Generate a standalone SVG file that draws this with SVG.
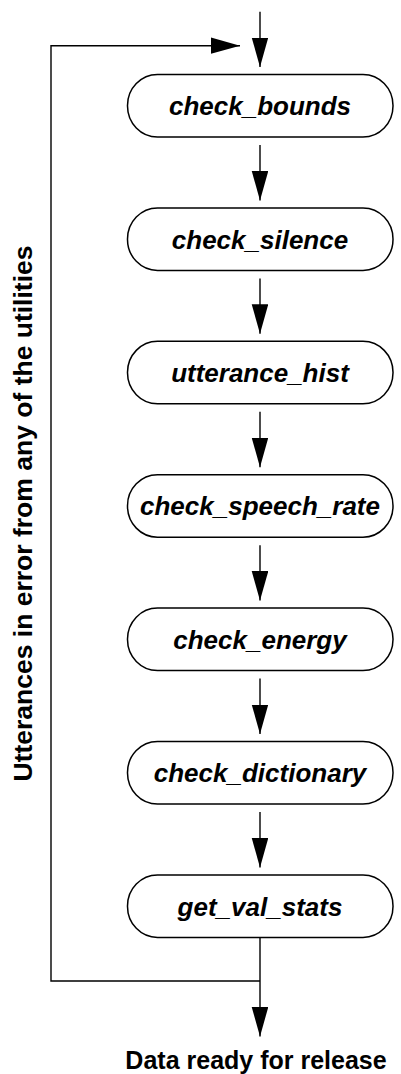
<svg xmlns="http://www.w3.org/2000/svg" width="401" height="1074" viewBox="0 0 401 1074">
<style>
.box{fill:#fff;stroke:#000;stroke-width:1.5}
.lbl{font-family:"Liberation Sans",Arial,sans-serif;font-weight:bold;font-style:italic;font-size:26px;text-anchor:middle;fill:#000}
.txt{font-family:"Liberation Sans",Arial,sans-serif;font-weight:bold;fill:#000;text-anchor:middle}
.ln{fill:none;stroke:#000;stroke-width:1.4}
</style>
<defs>
<marker id="ah" markerUnits="userSpaceOnUse" markerWidth="30" markerHeight="17" refX="29.5" refY="8.3" orient="auto">
<path d="M0,0 L29.5,8.3 L0,16.6 z" fill="#000"/>
</marker>
</defs>
<g id="connectors">
<path class="ln" d="M260,11.7 V67" marker-end="url(#ah)"/>
<path class="ln" d="M260,145 V200.4" marker-end="url(#ah)"/>
<path class="ln" d="M260,278.4 V333.8" marker-end="url(#ah)"/>
<path class="ln" d="M260,411.8 V467.2" marker-end="url(#ah)"/>
<path class="ln" d="M260,545.2 V600.6" marker-end="url(#ah)"/>
<path class="ln" d="M260,678.6 V734" marker-end="url(#ah)"/>
<path class="ln" d="M260,812 V867.4" marker-end="url(#ah)"/>
<path class="ln" d="M260,937.4 V1036.5" marker-end="url(#ah)"/>
<path class="ln" d="M260,981 H51 V45.7 H240" marker-end="url(#ah)"/>
</g>
<g id="n1"><rect class="box" x="127.5" y="74.5" width="265.5" height="62.5" rx="30" ry="31"/><text class="lbl" x="260" y="115">check_bounds</text></g>
<g id="n2"><rect class="box" x="127.5" y="207.9" width="265.5" height="62.5" rx="30" ry="31"/><text class="lbl" x="260" y="248.5">check_silence</text></g>
<g id="n3"><rect class="box" x="127.5" y="341.3" width="265.5" height="62.5" rx="30" ry="31"/><text class="lbl" x="260" y="381.9">utterance_hist</text></g>
<g id="n4"><rect class="box" x="127.5" y="474.7" width="265.5" height="62.5" rx="30" ry="31"/><text class="lbl" x="260" y="515.3">check_speech_rate</text></g>
<g id="n5"><rect class="box" x="127.5" y="608.1" width="265.5" height="62.5" rx="30" ry="31"/><text class="lbl" x="260" y="648.7">check_energy</text></g>
<g id="n6"><rect class="box" x="127.5" y="741.5" width="265.5" height="62.5" rx="30" ry="31"/><text class="lbl" x="260" y="782">check_dictionary</text></g>
<g id="n7"><rect class="box" x="127.5" y="874.9" width="265.5" height="62.5" rx="30" ry="31"/><text class="lbl" x="260" y="915.5">get_val_stats</text></g>
<g id="labels">
<text class="txt" x="256" y="1069" font-size="25">Data ready for release</text>
<text class="txt" font-size="26.5" transform="translate(31.5,513.5) rotate(-90)" x="0" y="0">Utterances in error from any of the utilities</text>
</g>
</svg>
